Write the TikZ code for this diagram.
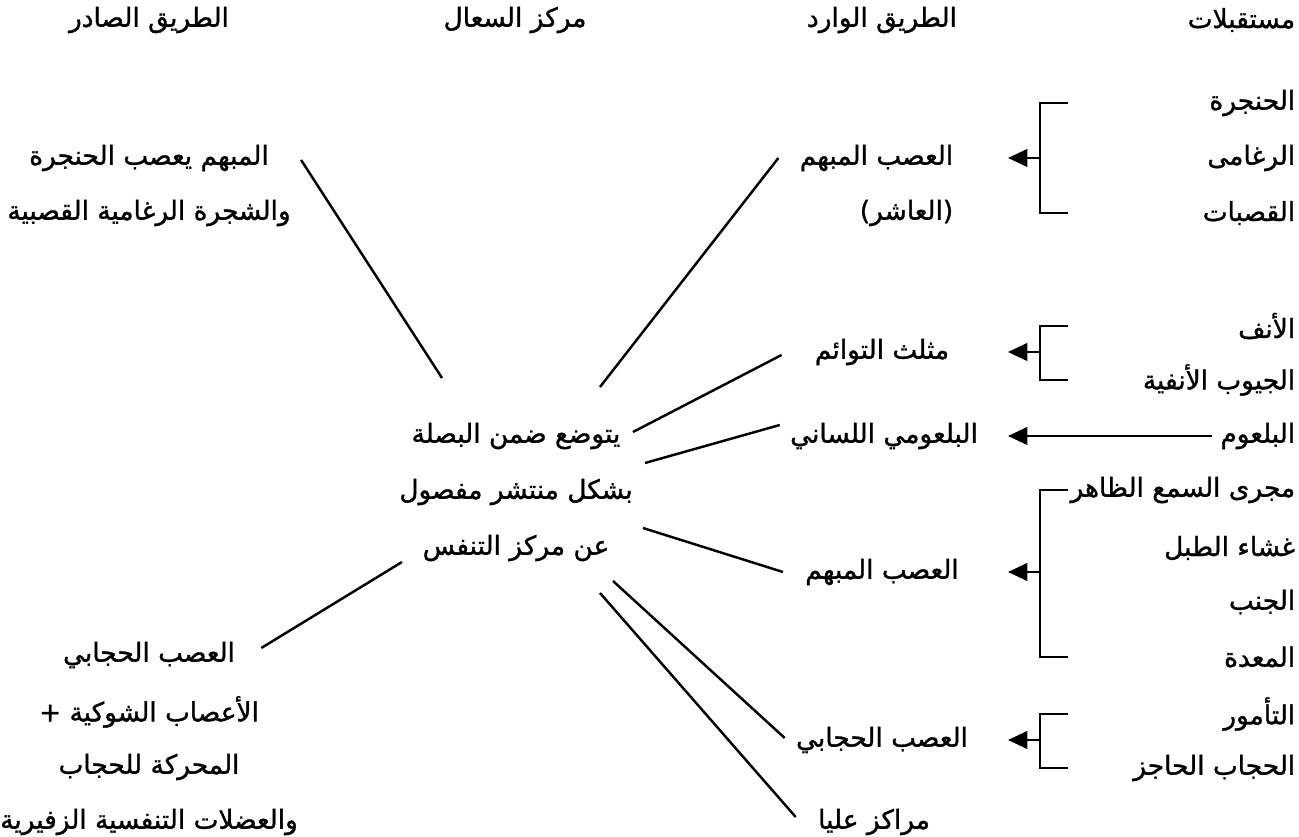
\documentclass[tikz,border=0pt]{standalone}
\usepackage{fontspec}
\newfontfamily\arabicfont[Script=Arabic, FakeBold=1.2]{DejaVu Sans}
\TeXXeTstate=1
\usetikzlibrary{arrows.meta}
\newcommand{\artext}[1]{\beginR #1\endR}

\tikzset{
  lbl/.style={font=\fontsize{15pt}{18pt}\selectfont\arabicfont, inner sep=2pt},
  nerve/.style={black, line width=1.4pt},
  feed/.style={black, line width=1.4pt, -{Triangle[length=11pt, width=10pt]}}
}

\begin{document}
\begin{tikzpicture}[x=0.02cm, y=-0.02cm]
        \useasboundingbox (0,0) rectangle (1299,837);

        % column titles
        \node[lbl] at (149,20) (hOut) {\artext{الطريق الصادر}};
        \node[lbl] at (515,20) (hCen) {\artext{مركز السعال}};
        \node[lbl] at (882,20) (hIn) {\artext{الطريق الوارد}};
        \node[lbl, anchor=east] at (1299,20) (hRec) {\artext{مستقبلات}};

        % receptors
        \node[lbl, anchor=east] at (1299,103) (r1) {\artext{الحنجرة}};
        \node[lbl, anchor=east] at (1299,158) (r2) {\artext{الرغامى}};
        \node[lbl, anchor=east] at (1299,213) (r3) {\artext{القصبات}};
        \node[lbl, anchor=east] at (1299,326) (r4) {\artext{الأنف}};
        \node[lbl, anchor=east] at (1299,380) (r5) {\artext{الجيوب الأنفية}};
        \node[lbl, anchor=east] at (1299,436) (r6) {\artext{البلعوم}};
        \node[lbl, anchor=east] at (1299,490) (r7) {\artext{مجرى السمع الظاهر}};
        \node[lbl, anchor=east] at (1299,548) (r8) {\artext{غشاء الطبل}};
        \node[lbl, anchor=east] at (1299,602) (r9) {\artext{الجنب}};
        \node[lbl, anchor=east] at (1299,657) (r10) {\artext{المعدة}};
        \node[lbl, anchor=east] at (1299,714) (r11) {\artext{التأمور}};
        \node[lbl, anchor=east] at (1299,768) (r12) {\artext{الحجاب الحاجز}};

        % afferent path
        \node[lbl, anchor=east] at (957,158) (a1) {\artext{العصب المبهم}};
        \node[lbl, anchor=east] at (957,213) (a1b) {\artext{(العاشر)}};
        \node[lbl] at (882,352) (a2) {\artext{مثلث التوائم}};
        \node[lbl] at (884,436) (a3) {\artext{البلعومي اللساني}};
        \node[lbl] at (882,572) (a4) {\artext{العصب المبهم}};
        \node[lbl] at (882,740) (a5) {\artext{العصب الحجابي}};
        \node[lbl] at (874,822) (a6) {\artext{مراكز عليا}};

        % cough centre
        \node[lbl] at (516,436) (c1) {\artext{يتوضع ضمن البصلة}};
        \node[lbl] at (516,492) (c2) {\artext{بشكل منتشر مفصول}};
        \node[lbl] at (516,548) (c3) {\artext{عن مركز التنفس}};

        % efferent path
        \node[lbl] at (149,158) (e1) {\artext{المبهم يعصب الحنجرة}};
        \node[lbl] at (149,213) (e2) {\artext{والشجرة الرغامية القصبية}};
        \node[lbl] at (149,655) (e3) {\artext{العصب الحجابي}};
        \node[lbl] at (149,712) (e4) {\artext{الأعصاب الشوكية +}};
        \node[lbl] at (149,767) (e5) {\artext{المحركة للحجاب}};
        \node[lbl] at (149,822) (e6) {\artext{والعضلات التنفسية الزفيرية}};

        % bracket columns
        \coordinate (armR) at (1068,0);
        \coordinate (spine) at (1040,0);
        \coordinate (tip) at (1008,0);

        % receptor brackets
        \draw[nerve] (r1 -| armR) -- (r1 -| spine) -- (r3 -| spine) -- (r3 -| armR);
        \draw[feed] (a1 -| spine) -- (a1 -| tip);

        \draw[nerve] (r4 -| armR) -- (r4 -| spine) -- (r5 -| spine) -- (r5 -| armR);
        \draw[feed] (a2 -| spine) -- (a2 -| tip);

        \draw[feed] ([xshift=-0.1cm]r6.west) -- (a3 -| tip);

        \draw[nerve] (r7 -| armR) -- (r7 -| spine) -- (r10 -| spine) -- (r10 -| armR);
        \draw[feed] (a4 -| spine) -- (a4 -| tip);

        \draw[nerve] (r11 -| armR) -- (r11 -| spine) -- (r12 -| spine) -- (r12 -| armR);
        \draw[feed] (a5 -| spine) -- (a5 -| tip);

        % ends near the centre
        \coordinate (hub1) at (442,378);
        \coordinate (hub2) at (600,387);
        \coordinate (hub3) at (633,432);
        \coordinate (hub4) at (645,463);
        \coordinate (hub5) at (643,528);
        \coordinate (hub6) at (613,581);
        \coordinate (hub7) at (600,593);
        \coordinate (hub8) at (402,562);

        % afferent nerves into the centre
        \draw[nerve] ([xshift=-0.35cm]a1.west) -- (hub2);
        \draw[nerve] ([xshift=-0.59cm, yshift=-0.06cm]a2.west) -- (hub3);
        \draw[nerve] ([xshift=-0.13cm, yshift=0.22cm]a3.west) -- (hub4);
        \draw[nerve] ([xshift=-0.37cm]a4.west) -- (hub5);
        \draw[nerve] ([xshift=-0.15cm, yshift=0.04cm]a5.west) -- (hub6);
        \draw[nerve] ([xshift=-0.37cm, yshift=0.1cm]a6.west) -- (hub7);

        % efferent nerves out of the centre
        \draw[nerve] ([xshift=0.57cm, yshift=-0.04cm]e1.east) -- (hub1);
        \draw[nerve] ([xshift=0.45cm, yshift=0.14cm]e3.east) -- (hub8);
\end{tikzpicture}
\end{document}
